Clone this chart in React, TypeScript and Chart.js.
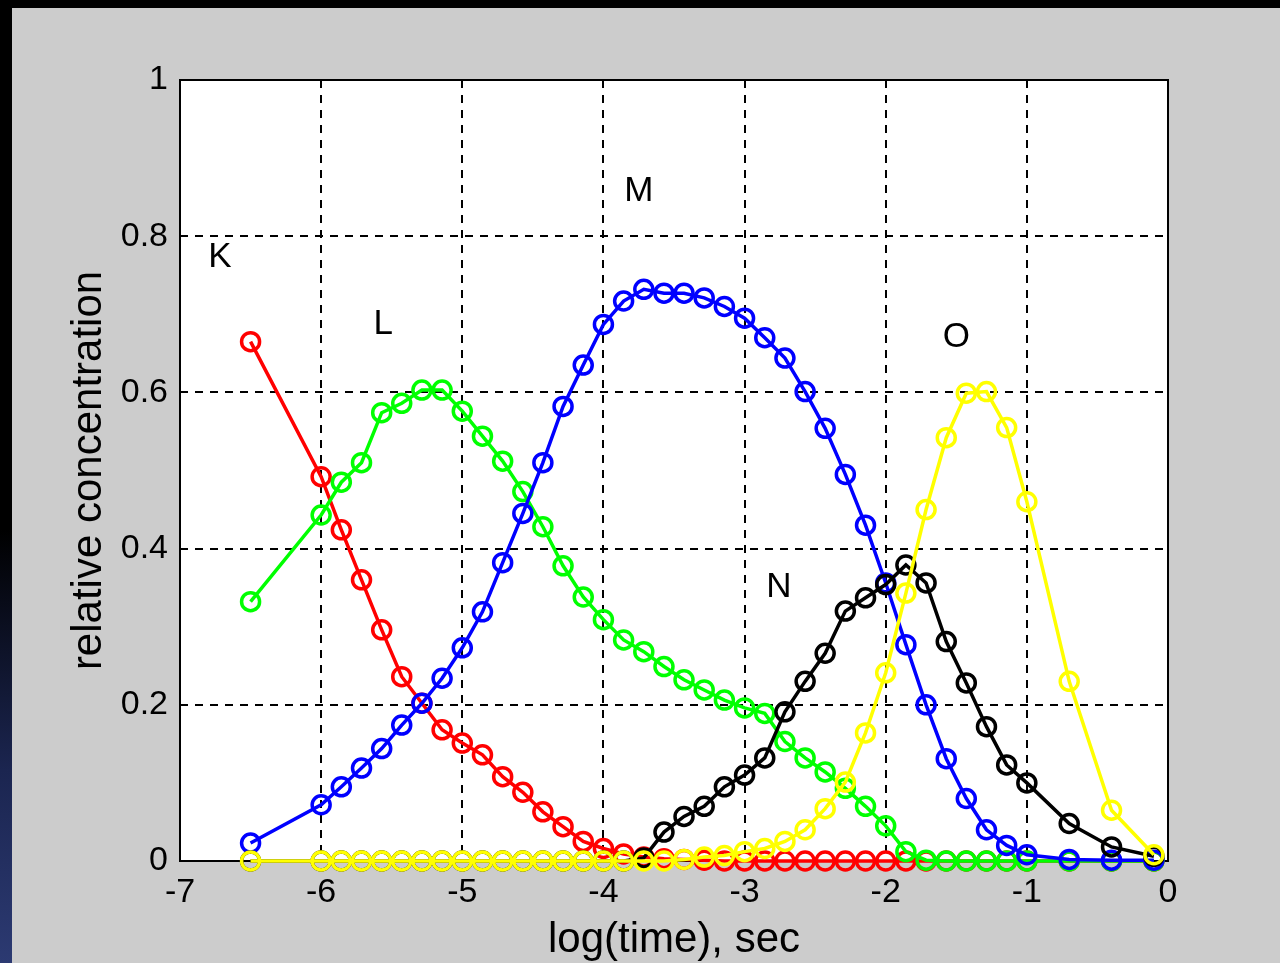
import React, { useEffect, useRef } from "react";
import { Chart, registerables } from "chart.js";

Chart.register(...registerables);

// log10 of time (sec) at which each concentration was sampled
const logTimes = [
  -6.5, -6.0, -5.857, -5.714, -5.571, -5.429, -5.286, -5.143, -5.0, -4.857,
  -4.714, -4.571, -4.429, -4.286, -4.143, -4.0, -3.857, -3.714, -3.571, -3.429,
  -3.286, -3.143, -3.0, -2.857, -2.714, -2.571, -2.429, -2.286, -2.143, -2.0,
  -1.857, -1.714, -1.571, -1.429, -1.286, -1.143, -1.0, -0.7, -0.4, -0.1,
];

const kValues = [
  0.665, 0.492, 0.424, 0.36, 0.296, 0.236, 0.202, 0.168, 0.151, 0.136,
  0.108, 0.088, 0.063, 0.044, 0.025, 0.016, 0.009, 0.005, 0.003, 0.002,
  0.001, 0.0, 0.0, 0.0, 0.0, 0.0, 0.0, 0.0, 0.0, 0.0,
  0.0, 0.0, 0.0, 0.0, 0.0, 0.0, 0.0, 0.0, 0.0, 0.0,
];

const lValues = [
  0.332, 0.443, 0.485, 0.51, 0.574, 0.586, 0.603, 0.603, 0.576, 0.544,
  0.512, 0.473, 0.428, 0.378, 0.338, 0.309, 0.283, 0.268, 0.249, 0.232,
  0.219, 0.206, 0.196, 0.189, 0.153, 0.132, 0.114, 0.093, 0.07, 0.045,
  0.012, 0.001, 0.0, 0.0, 0.0, 0.0, 0.0, 0.0, 0.0, 0.0,
];

const mValues = [
  0.023, 0.072, 0.095, 0.119, 0.144, 0.174, 0.202, 0.234, 0.273, 0.319,
  0.382, 0.445, 0.51, 0.582, 0.635, 0.687, 0.717, 0.732, 0.727, 0.727,
  0.721, 0.71, 0.695, 0.67, 0.644, 0.601, 0.554, 0.495, 0.43, 0.356,
  0.277, 0.2, 0.131, 0.08, 0.04, 0.02, 0.008, 0.002, 0.001, 0.001,
];

const nValues = [
  0.0, 0.0, 0.0, 0.0, 0.0, 0.0, 0.0, 0.0, 0.0, 0.0,
  0.0, 0.0, 0.0, 0.0, 0.0, 0.0, 0.0, 0.004, 0.037, 0.057,
  0.07, 0.095, 0.11, 0.132, 0.191, 0.23, 0.266, 0.32, 0.337, 0.354,
  0.379, 0.356, 0.281, 0.228, 0.172, 0.123, 0.1, 0.048, 0.018, 0.006,
];

const oValues = [
  0.0, 0.0, 0.0, 0.0, 0.0, 0.0, 0.0, 0.0, 0.0, 0.0,
  0.0, 0.0, 0.0, 0.0, 0.0, 0.0, 0.0, 0.0, 0.0, 0.002,
  0.005, 0.007, 0.012, 0.016, 0.025, 0.04, 0.067, 0.101, 0.164, 0.241,
  0.343, 0.45, 0.542, 0.599, 0.601, 0.555, 0.46, 0.23, 0.065, 0.008,
];

const seriesNames = ["K", "L", "M", "N", "O"];
const seriesValues = [kValues, lValues, mValues, nValues, oValues];
const seriesColors = ["#ff0000", "#00ff00", "#0000ff", "#000000", "#ffff00"];

// curve labels placed in data coordinates
const labelX = [-6.717, -5.56, -3.75, -2.756, -1.5];
const labelY = [0.773, 0.687, 0.857, 0.35, 0.671];

const xTicks = [-7, -6, -5, -4, -3, -2, -1, 0];
const yTicks = [0, 0.2, 0.4, 0.6, 0.8, 1];

const FONT = '"Liberation Sans", Arial, Helvetica, sans-serif';

const boxAndLabels = {
  id: "boxAndLabels",
  beforeDraw(chart: any) {
    const { ctx, chartArea: a } = chart;
    ctx.save();
    ctx.fillStyle = "#ffffff";
    ctx.fillRect(a.left, a.top, a.right - a.left, a.bottom - a.top);
    ctx.restore();
  },
  beforeDatasetsDraw(chart: any) {
    const { ctx, chartArea: a } = chart;
    ctx.save();
    ctx.strokeStyle = "#000000";
    ctx.lineWidth = 2;
    ctx.setLineDash([]);
    ctx.strokeRect(a.left, a.top, a.right - a.left, a.bottom - a.top);
    ctx.restore();
  },
  afterDraw(chart: any) {
    const { ctx, scales } = chart;
    ctx.save();
    ctx.font = `35px ${FONT}`;
    ctx.fillStyle = "#000000";
    ctx.textAlign = "center";
    ctx.textBaseline = "middle";
    seriesNames.forEach((t, i) => {
      ctx.fillText(t, scales.x.getPixelForValue(labelX[i]), scales.y.getPixelForValue(labelY[i]));
    });
    ctx.restore();
  },
};

export default function App() {
  const ref = useRef<HTMLCanvasElement | null>(null);

  useEffect(() => {
    if (!ref.current) return;
    const datasets = seriesValues.map((vals, si) => ({
      label: seriesNames[si],
      data: logTimes.map((t, i) => ({ x: t, y: vals[i] })),
      order: seriesValues.length - si,
      borderColor: seriesColors[si],
      backgroundColor: "rgba(0,0,0,0)",
      pointBorderColor: seriesColors[si],
      pointBackgroundColor: "rgba(0,0,0,0)",
      borderWidth: 3.5,
      pointRadius: 9,
      pointBorderWidth: 3.5,
      pointStyle: "circle",
      showLine: true,
      tension: 0,
      clip: false as any,
    }));

    const chart = new Chart(ref.current, {
      type: "scatter",
      data: { datasets },
      plugins: [boxAndLabels],
      options: {
        animation: false,
        responsive: false,
        devicePixelRatio: 1,
        layout: { padding: { left: 0, top: 72, right: 112, bottom: 0 } },
        plugins: { legend: { display: false }, tooltip: { enabled: false } },
        scales: {
          x: {
            type: "linear",
            min: -7,
            max: 0,
            afterBuildTicks: (axis: any) => {
              axis.ticks = xTicks.map((v) => ({ value: v }));
            },
            afterFit: (axis: any) => {
              axis.height = 102;
            },
            ticks: {
              color: "#000000",
              font: { family: FONT, size: 34 },
              padding: 11,
              maxRotation: 0,
              callback: (v: any) => String(Math.round(Number(v))),
            },
            grid: { color: "#000000", lineWidth: 2, drawTicks: false },
            border: { display: false, dash: [8, 7] },
            title: {
              display: true,
              text: "log(time), sec",
              color: "#000000",
              font: { family: FONT, size: 42, lineHeight: 1.0 },
              padding: { top: 0, bottom: 2 },
            },
          },
          y: {
            type: "linear",
            min: 0,
            max: 1,
            afterBuildTicks: (axis: any) => {
              axis.ticks = yTicks.map((v) => ({ value: v }));
            },
            afterFit: (axis: any) => {
              axis.width = 168;
            },
            ticks: {
              color: "#000000",
              font: { family: FONT, size: 34 },
              padding: 12,
              callback: (v: any) => String(Math.round(Number(v) * 10) / 10),
            },
            grid: { color: "#000000", lineWidth: 2, drawTicks: false },
            border: { display: false, dash: [8, 7] },
            title: {
              display: true,
              text: "relative concentration",
              color: "#000000",
              font: { family: FONT, size: 42 },
              padding: { top: 52, bottom: 0 },
            },
          },
        },
      },
    } as any);
    return () => chart.destroy();
  }, []);

  return (
    <div
      style={{
        position: "fixed",
        left: 0,
        top: 0,
        width: 1280,
        height: 963,
        background: "linear-gradient(180deg, #000000 0%, #000000 55%, #1b2550 80%, #2c3a72 100%)",
        overflow: "hidden",
      }}
    >
      <div
        style={{
          position: "absolute",
          left: 12,
          top: 8,
          width: 1268,
          height: 955,
          background: "#cccccc",
        }}
      >
        <canvas ref={ref} width={1268} height={955} style={{ display: "block" }} />
      </div>
    </div>
  );
}
